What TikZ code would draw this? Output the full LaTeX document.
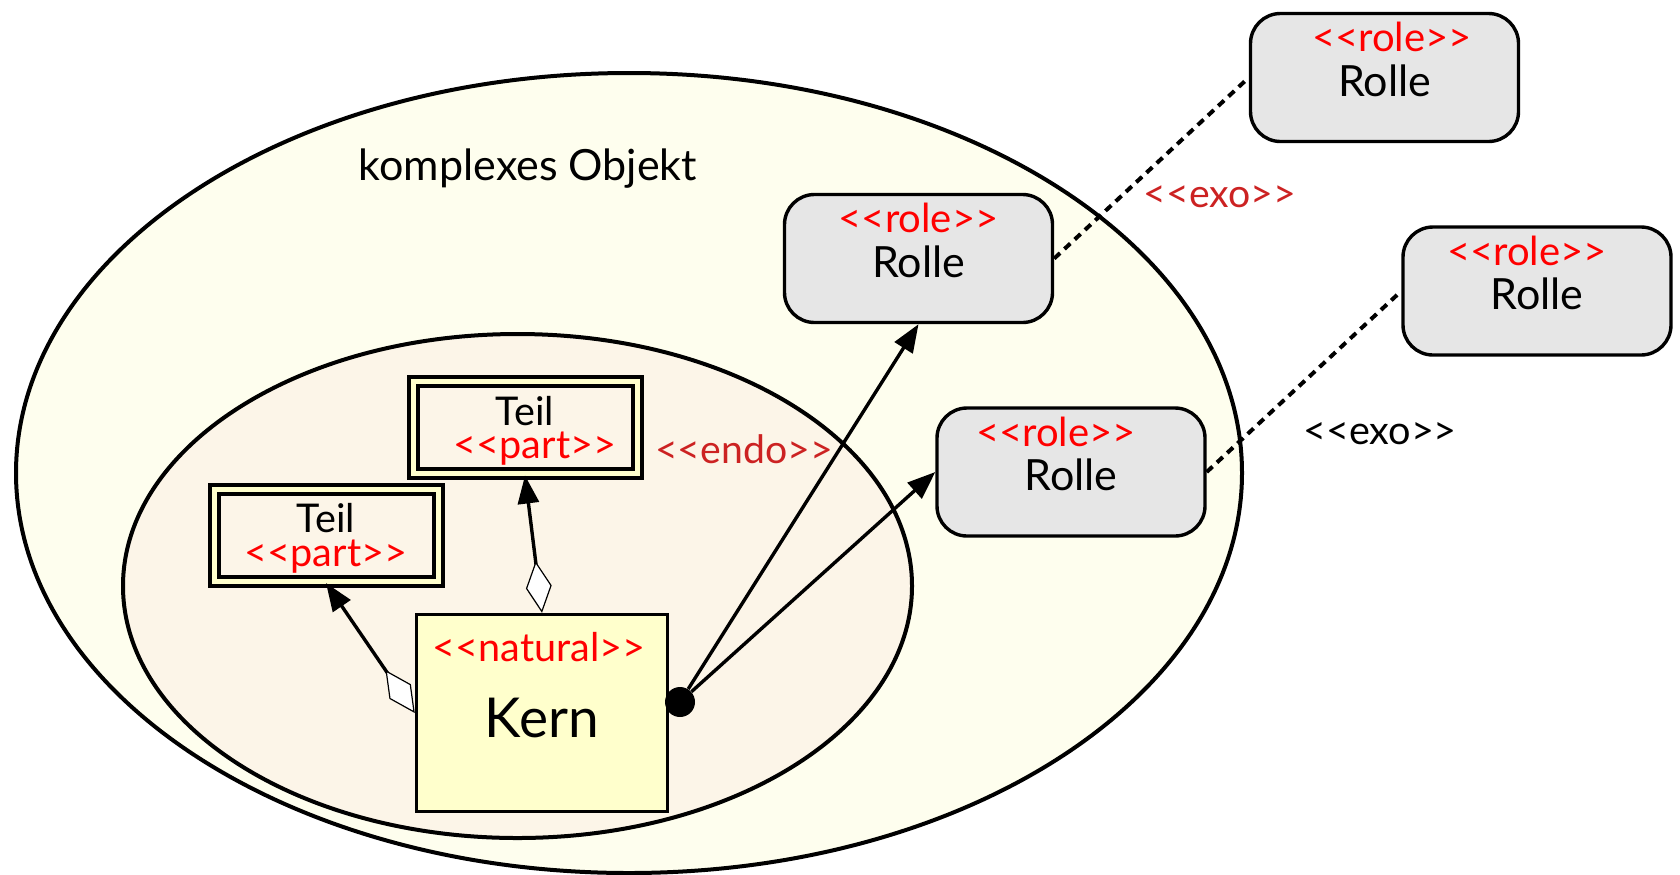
\documentclass[tikz,border=0pt]{standalone}
\usepackage{fontspec}
\setmainfont{Lato}
\usetikzlibrary{arrows.meta}
\definecolor{outerfill}{RGB}{254,254,238}
\definecolor{innerfill}{RGB}{252,245,232}
\definecolor{kernfill}{RGB}{255,255,204}
\definecolor{rolefill}{RGB}{230,230,230}
\definecolor{endored}{RGB}{204,34,34}
\newcommand{\stereo}[1]{<\kern0pt<#1>\kern0pt>}

\begin{document}
\begin{tikzpicture}
[x=0.5pt, y=-0.5pt,
rolenode/.style={rectangle, rounded corners=15pt, draw=black, fill=rolefill, line width=1.7pt, minimum width=134pt, minimum height=64pt, text height=18.5pt, text depth=0pt, font=\fontsize{21.5}{25}\selectfont},
roletag/.style={text=red, anchor=base, yshift=-20pt, font=\fontsize{20}{24}\selectfont},
kernnode/.style={rectangle, draw=black, fill=kernfill, line width=1.7pt, minimum width=125.5pt, minimum height=98.5pt, text height=24pt, text depth=0pt, font=\fontsize{27.5}{32}\selectfont},
naturaltag/.style={text=red, anchor=base, yshift=-24.5pt, xshift=-1.5pt, font=\fontsize{19.8}{24}\selectfont},
partnode/.style={rectangle, draw=black, line width=2pt, double=kernfill, double distance=2.5pt, minimum width=112pt, minimum height=46pt, align=center, text depth=0pt, font=\fontsize{19.8}{16.6}\selectfont},
dotnode/.style={circle, fill=black, inner sep=0pt, minimum size=15pt},
endotag/.style={text=endored, font=\fontsize{19.6}{24}\selectfont},
exotag/.style={text=black, font=\fontsize{19.8}{24}\selectfont},
aggr/.style={line width=1.7pt, arrows={Diamond[fill=white, length=26pt, width=13pt, line width=0.6pt]-Triangle[length=14pt, width=10.5pt]}},
assoc/.style={line width=1.7pt, -{Triangle[length=14pt, width=10.5pt]}},
exoline/.style={line width=2pt, dash pattern=on 4pt off 3pt},
]
\useasboundingbox (0,0) rectangle (1680,874);
\draw[line width=2pt, fill=outerfill] (629,473) ellipse [x radius=306.5pt, y radius=200pt];
\draw[line width=2pt, fill=innerfill] (517.5,586) ellipse [x radius=197.25pt, y radius=126pt];

\node[anchor=base, font=\fontsize{21.5}{25}\selectfont] (title) at (528,180) {komplexes Objekt};

\node[kernnode, label={[naturaltag]north:\stereo{natural}}] (kern) at (542,713) {Kern};
\node[partnode] (t1) at (525,427.5) {Teil\\\hspace*{10pt}{\color{red}\stereo{part}}};
\node[partnode] (t2) at (326,535) {Teil\\{\color{red}\stereo{part}}};
\node[dotnode] (dot) at (680,702) {};

\node[rolenode, label={[roletag]north:\stereo{role}}] (r1) at (918.5,258.5) {Rolle};
\node[rolenode, label={[roletag, xshift=-7.5pt]north:\stereo{role}}] (r2) at (1071,472) {Rolle};
\node[rolenode, label={[roletag, xshift=3.75pt]north:\stereo{role}}] (r3) at (1384.5,77.5) {Rolle};
\node[rolenode, label={[roletag, xshift=-5pt]north:\stereo{role}}] (r4) at (1537,291) {Rolle};

\node[endotag] (endo) at (744,449) {\stereo{endo}};
\node[endotag] (exoa) at (1220,197) {\stereo{exo}};
\node[exotag] (exob) at (1380,434) {\stereo{exo}};

\draw[aggr] (kern.north) -- (t1.south);
\draw[aggr] (kern.west) -- (t2.south);
\draw[assoc] (dot) -- (r1.south);
\draw[assoc] (dot) -- (r2.west);
\draw[exoline] (r1.east) -- (r3.west);
\draw[exoline] (r2.east) -- (r4.west);
\end{tikzpicture}
\end{document}
